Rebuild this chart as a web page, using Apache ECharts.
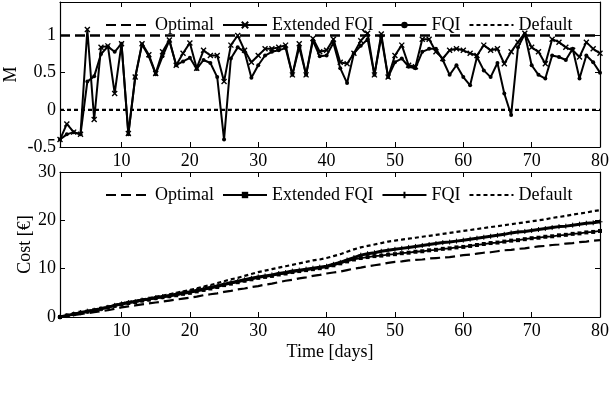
<!DOCTYPE html>
<html>
<head>
<meta charset="utf-8">
<script src="https://cdn.jsdelivr.net/npm/echarts@6/dist/echarts.min.js"></script>
<style>
html, body { margin: 0; padding: 0; background: #fff; }
#chart { width: 610px; height: 394px; }
</style>
</head>
<body>
<div id="chart"></div>
<script>
// top panel: performance measure M per day
var extFqiM = [
  -0.40, -0.19, -0.30, -0.33, 1.08, -0.13, 0.84, 0.86, 0.22, 0.89,
  -0.32, 0.44, 0.89, 0.74, 0.49, 0.78, 0.94, 0.60, 0.76, 0.90,
  0.56, 0.80, 0.73, 0.73, 0.38, 0.87, 1.00, 0.80, 0.64, 0.73,
  0.82, 0.82, 0.84, 0.87, 0.47, 0.89, 0.47, 0.96, 0.78, 0.80,
  0.95, 0.64, 0.62, 0.76, 0.93, 1.03, 0.47, 1.02, 0.44, 0.73,
  0.87, 0.60, 0.58, 0.95, 0.95, 0.78, 0.69, 0.80, 0.82, 0.80,
  0.76, 0.73, 0.87, 0.80, 0.82, 0.62, 0.78, 0.91, 1.03, 0.84,
  0.78, 0.62, 0.95, 0.91, 0.84, 0.80, 0.71, 0.91, 0.82, 0.76
];
var fqiM = [
  -0.40, -0.33, -0.30, -0.33, 0.38, 0.45, 0.75, 0.85, 0.78, 0.89,
  -0.33, 0.43, 0.88, 0.72, 0.48, 0.72, 0.93, 0.60, 0.65, 0.70,
  0.55, 0.67, 0.63, 0.44, -0.40, 0.69, 0.84, 0.78, 0.43, 0.60,
  0.73, 0.78, 0.80, 0.83, 0.47, 0.84, 0.47, 0.93, 0.72, 0.73,
  0.90, 0.56, 0.36, 0.76, 0.86, 0.95, 0.47, 0.98, 0.44, 0.64,
  0.69, 0.58, 0.56, 0.78, 0.82, 0.82, 0.67, 0.47, 0.60, 0.44,
  0.33, 0.71, 0.53, 0.44, 0.63, 0.22, -0.07, 0.84, 1.02, 0.60,
  0.47, 0.42, 0.73, 0.71, 0.67, 0.82, 0.42, 0.73, 0.64, 0.50
];
var optimalM = 1;
var defaultM = 0;

// bottom panel: cumulative cost
var optimalCost = [
  0.0, 0.2, 0.4, 0.6, 0.8, 1.0, 1.2, 1.4, 1.7, 2.0,
  2.2, 2.4, 2.6, 2.8, 3.0, 3.2, 3.4, 3.6, 3.8, 4.0,
  4.2, 4.5, 4.7, 4.9, 5.2, 5.4, 5.7, 5.9, 6.2, 6.4,
  6.7, 6.9, 7.2, 7.5, 7.7, 8.0, 8.2, 8.5, 8.7, 9.0,
  9.2, 9.4, 9.7, 10.0, 10.2, 10.5, 10.7, 10.9, 11.2, 11.4,
  11.5, 11.7, 11.8, 11.9, 12.1, 12.2, 12.3, 12.4, 12.6, 12.8,
  12.9, 13.1, 13.3, 13.4, 13.6, 13.8, 13.9, 14.1, 14.2, 14.4,
  14.6, 14.7, 14.9, 15.0, 15.2, 15.3, 15.5, 15.6, 15.8, 15.9
];
var extFqiCost = [
  0.0, 0.3, 0.6, 0.9, 1.1, 1.4, 1.7, 2.0, 2.3, 2.6,
  2.9, 3.1, 3.4, 3.6, 3.9, 4.1, 4.3, 4.5, 4.8, 5.0,
  5.3, 5.6, 5.9, 6.2, 6.6, 6.9, 7.2, 7.5, 7.8, 8.1,
  8.3, 8.5, 8.8, 9.0, 9.3, 9.5, 9.7, 9.9, 10.1, 10.3,
  10.7, 11.1, 11.5, 11.9, 12.2, 12.4, 12.6, 12.7, 12.9, 13.0,
  13.2, 13.3, 13.5, 13.6, 13.8, 13.9, 14.1, 14.2, 14.4, 14.5,
  14.7, 14.9, 15.1, 15.3, 15.4, 15.6, 15.8, 15.9, 16.1, 16.3,
  16.4, 16.6, 16.7, 16.9, 17.0, 17.2, 17.3, 17.5, 17.6, 17.8
];
var fqiCost = [
  0.0, 0.3, 0.6, 0.9, 1.2, 1.4, 1.7, 2.0, 2.4, 2.7,
  3.0, 3.2, 3.5, 3.7, 4.0, 4.2, 4.4, 4.7, 5.0, 5.2,
  5.5, 5.8, 6.1, 6.4, 6.8, 7.1, 7.4, 7.7, 8.0, 8.3,
  8.5, 8.7, 9.0, 9.2, 9.5, 9.7, 9.9, 10.1, 10.3, 10.5,
  10.9, 11.3, 11.8, 12.3, 12.8, 13.1, 13.3, 13.6, 13.8, 14.0,
  14.2, 14.4, 14.6, 14.8, 15.0, 15.2, 15.4, 15.5, 15.7, 15.9,
  16.1, 16.3, 16.5, 16.7, 16.9, 17.1, 17.4, 17.6, 17.7, 17.9,
  18.1, 18.3, 18.5, 18.7, 18.8, 19.0, 19.2, 19.4, 19.5, 19.7
];
var defaultCost = [
  0.0, 0.3, 0.6, 0.9, 1.2, 1.5, 1.8, 2.1, 2.5, 2.8,
  3.1, 3.3, 3.6, 3.9, 4.2, 4.4, 4.7, 5.0, 5.3, 5.6,
  5.9, 6.3, 6.6, 7.0, 7.4, 7.8, 8.1, 8.5, 8.9, 9.3,
  9.6, 9.9, 10.2, 10.5, 10.8, 11.1, 11.4, 11.7, 11.9, 12.2,
  12.6, 13.0, 13.5, 14.0, 14.4, 14.7, 15.0, 15.3, 15.6, 15.8,
  16.0, 16.2, 16.4, 16.6, 16.8, 17.0, 17.2, 17.4, 17.6, 17.8,
  18.0, 18.2, 18.4, 18.6, 18.8, 19.0, 19.2, 19.4, 19.6, 19.8,
  20.0, 20.2, 20.5, 20.7, 20.9, 21.2, 21.4, 21.6, 21.9, 22.1
];

var dayRange = [1, 80];
var dayTicks = [10, 20, 30, 40, 50, 60, 70, 80];
var mTicks = [-0.5, 0, 0.5, 1];
var costTicks = [0, 10, 20, 30];

var font = '"Liberation Serif", "DejaVu Serif", serif';
var fs = 18;

// legend labels for the cost panel (series names kept distinct from the top panel)
var costLabels = { 'c-opt': 'Optimal', 'c-ext': 'Extended FQI', 'c-fqi': 'FQI', 'c-def': 'Default' };

var crossSym = 'path://M0,0L10,10M10,0L0,10';
var plusSym = 'path://M5,0L5,10M0,5L10,5';

function byDay(arr) {
  return arr.map(function (v, i) { return [i + 1, v]; });
}
function flat(v) {
  return [[dayRange[0], v], [dayRange[1], v]];
}

function xAx(grid, pos, labels) {
  return {
    type: 'value', gridIndex: grid, position: pos,
    min: dayRange[0], max: dayRange[1],
    axisLine: { show: true, onZero: false, lineStyle: { color: '#000', width: 1.2 } },
    axisTick: { show: true, inside: true, length: 5, customValues: dayTicks, lineStyle: { color: '#000' } },
    axisLabel: { show: labels, customValues: dayTicks, color: '#000', fontFamily: font, fontSize: fs, margin: 5 },
    splitLine: { show: false }
  };
}
function yAx(grid, pos, lo, hi, ticks, labels, name, gap) {
  return {
    type: 'value', gridIndex: grid, position: pos, min: lo, max: hi,
    name: name, nameLocation: 'middle', nameGap: gap, nameRotate: 90, nameMoveOverlap: false,
    nameTextStyle: { color: '#000', fontFamily: font, fontSize: fs },
    axisLine: { show: true, onZero: false, lineStyle: { color: '#000', width: 1.2 } },
    axisTick: { show: true, inside: true, length: 5, customValues: ticks, lineStyle: { color: '#000' } },
    axisLabel: { show: labels, customValues: ticks, color: '#000', fontFamily: font, fontSize: fs, margin: 4 },
    splitLine: { show: false }
  };
}

var legendBase = {
  orient: 'horizontal', itemWidth: 44, itemHeight: 8, itemGap: 8,
  selectedMode: false,
  textStyle: { color: '#000', fontFamily: font, fontSize: fs, padding: [0, 0, 0, 0] }
};

var plainLine = { color: '#000', opacity: 0 };

var chart = echarts.init(document.getElementById('chart'));
chart.setOption({
  animation: false,
  backgroundColor: '#fff',
  color: ['#000'],
  grid: [
    { left: 60, right: 10, top: 2, height: 145, outerBoundsMode: 'none' },
    { left: 60, right: 10, top: 172, height: 145, outerBoundsMode: 'none' }
  ],
  legend: [
    Object.assign({}, legendBase, { left: 100, top: 11, data: ['Optimal', 'Extended FQI', 'FQI', 'Default'] }),
    Object.assign({}, legendBase, {
      left: 100, top: 181, data: ['c-opt', 'c-ext', 'c-fqi', 'c-def'],
      formatter: function (n) { return costLabels[n] || n; }
    })
  ],
  xAxis: [
    xAx(0, 'bottom', true),
    xAx(0, 'top', false),
    Object.assign(xAx(1, 'bottom', true), {
      name: 'Time [days]', nameLocation: 'middle', nameGap: 26, nameMoveOverlap: false,
      nameTextStyle: { color: '#000', fontFamily: font, fontSize: fs }
    }),
    xAx(1, 'top', false)
  ],
  yAxis: [
    yAx(0, 'left', -0.5, 1.45, mTicks, true, 'M', 40),
    yAx(0, 'right', -0.5, 1.45, mTicks, false, '', 0),
    yAx(1, 'left', 0, 30, costTicks, true, 'Cost [€]', 26),
    yAx(1, 'right', 0, 30, costTicks, false, '', 0)
  ],
  series: [
    {
      name: 'Optimal', type: 'line', xAxisIndex: 0, yAxisIndex: 0,
      data: flat(optimalM), showSymbol: false, symbol: 'none', itemStyle: plainLine,
      lineStyle: { color: '#000', width: 2.4, type: [10, 5] }
    },
    {
      name: 'Extended FQI', type: 'line', xAxisIndex: 0, yAxisIndex: 0,
      data: byDay(extFqiM), symbol: crossSym, symbolSize: 5, showAllSymbol: true,
      itemStyle: { color: '#000', borderColor: '#000', borderWidth: 1.4 },
      lineStyle: { color: '#000', width: 2 }
    },
    {
      name: 'FQI', type: 'line', xAxisIndex: 0, yAxisIndex: 0,
      data: byDay(fqiM), symbol: 'circle', symbolSize: 4, showAllSymbol: true,
      itemStyle: { color: '#000', borderColor: '#000', borderWidth: 0 },
      lineStyle: { color: '#000', width: 2 }
    },
    {
      name: 'Default', type: 'line', xAxisIndex: 0, yAxisIndex: 0,
      data: flat(defaultM), showSymbol: false, symbol: 'none', itemStyle: plainLine,
      lineStyle: { color: '#000', width: 2.2, type: [4, 3] }
    },
    {
      name: 'c-opt', type: 'line', xAxisIndex: 2, yAxisIndex: 2,
      data: byDay(optimalCost), showSymbol: false, symbol: 'none', itemStyle: plainLine,
      lineStyle: { color: '#000', width: 2.2, type: [10, 5] }
    },
    {
      name: 'c-ext', type: 'line', xAxisIndex: 2, yAxisIndex: 2,
      data: byDay(extFqiCost), symbol: 'rect', symbolSize: 4, showAllSymbol: true,
      itemStyle: { color: '#000', borderColor: '#000', borderWidth: 0 },
      lineStyle: { color: '#000', width: 1.8 }
    },
    {
      name: 'c-fqi', type: 'line', xAxisIndex: 2, yAxisIndex: 2,
      data: byDay(fqiCost), symbol: plusSym, symbolSize: 5, showAllSymbol: true,
      itemStyle: { color: '#000', borderColor: '#000', borderWidth: 1 },
      lineStyle: { color: '#000', width: 3 }
    },
    {
      name: 'c-def', type: 'line', xAxisIndex: 2, yAxisIndex: 2,
      data: byDay(defaultCost), showSymbol: false, symbol: 'none', itemStyle: plainLine,
      lineStyle: { color: '#000', width: 2.2, type: [4, 3] }
    }
  ]
});
</script>
</body>
</html>
